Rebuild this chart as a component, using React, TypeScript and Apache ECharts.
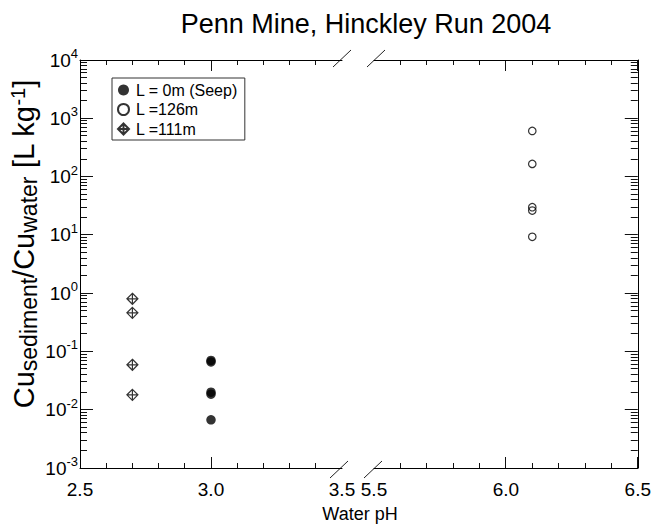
import React, { useEffect, useRef } from 'react';
import * as echarts from 'echarts';

const FONT = '"Liberation Sans", Arial, sans-serif';

const TITLE = 'Penn Mine, Hinckley Run 2004';
const X_NAME = 'Water pH';
const SERIES_NAMES = ['L = 0m (Seep)', 'L =126m', 'L =111m'];

const LEFT_RANGE = [2.5, 3.5];
const RIGHT_RANGE = [5.5, 6.5];
const Y_MIN = 0.001;
const Y_MAX = 10000;

// L = 0m (Seep)
const seepPH = [3.0, 3.0, 3.0, 3.0, 3.0];
const seepKd = [0.066, 0.07, 0.0185, 0.02, 0.0067];
// L = 126m
const l126PH = [6.1, 6.1, 6.1, 6.1, 6.1];
const l126Kd = [607, 165, 29.8, 26.1, 9.25];
// L = 111m
const l111PH = [2.7, 2.7, 2.7, 2.7];
const l111Kd = [0.8, 0.46, 0.059, 0.018];

const DIAMOND = 'path://M5 0L10 5L5 10L0 5ZM5 0L5 10M0 5L10 5';

function xTicks(range: number[], skipStart: boolean, skipEnd: boolean) {
  const out: { v: number; major: boolean }[] = [];
  for (let i = 0; i <= 10; i++) {
    if ((i === 0 && skipStart) || (i === 10 && skipEnd)) continue;
    out.push({ v: +(range[0] + i * 0.1).toFixed(1), major: i % 5 === 0 });
  }
  return out;
}
function yTicks() {
  const out: { v: number; major: boolean }[] = [];
  for (let e = -3; e <= 4; e++) {
    out.push({ v: Math.pow(10, e), major: true });
    if (e < 4) for (let k = 2; k <= 9; k++) out.push({ v: k * Math.pow(10, e), major: false });
  }
  return out;
}

const X_MAJ = 11;
const X_MIN_LEN = 5;
const Y_MAJ = 13;
const Y_MIN_LEN = 7;

export default function App() {
  const ref = useRef<HTMLDivElement>(null);
  useEffect(() => {
    if (!ref.current) return;
    const chart = echarts.init(ref.current, undefined, { renderer: 'svg' });
    const black = '#000';
    const xAxis = (gridIndex: number, range: number[], position: string, showLabel: boolean) => ({
      type: 'value',
      gridIndex,
      position,
      min: range[0],
      max: range[1],
      interval: 0.5,
      axisLine: { show: true, onZero: false, lineStyle: { color: black, width: 1 } },
      axisTick: { show: false },
      minorTick: { show: false },
      splitLine: { show: false },
      axisLabel: {
        show: showLabel,
        fontSize: 19,
        lineHeight: 20,
        color: black,
        fontFamily: FONT,
        margin: 11,
        formatter: (v: number) => v.toFixed(1),
      },
    });
    const yAxis = (gridIndex: number, position: string, showLabel: boolean) => ({
      type: 'log',
      logBase: 10,
      gridIndex,
      position,
      min: Y_MIN,
      max: Y_MAX,
      axisLine: { show: true, onZero: false, lineStyle: { color: black, width: 1 } },
      axisTick: { show: false },
      splitLine: { show: false },
      axisLabel: {
        show: showLabel,
        margin: 2,
        formatter: (v: number) => `{b|10}{s|${Math.round(Math.log10(v))}}`,
        rich: {
          b: { fontSize: 19, lineHeight: 26, fontFamily: FONT, color: black },
          s: { fontSize: 13, lineHeight: 14, verticalAlign: 'top', fontFamily: FONT, color: black },
        },
      },
    });

    const baseGraphic: any[] = [
      {
        type: 'text',
        x: 366,
        y: 24,
        style: { text: TITLE, fontSize: 27, fontFamily: FONT, fill: black, align: 'center', verticalAlign: 'middle' },
      },
      {
        type: 'text',
        x: 360,
        y: 514,
        style: { text: X_NAME, fontSize: 18, lineHeight: 19, fontFamily: FONT, fill: black, align: 'center', verticalAlign: 'middle' },
      },
      {
        type: 'text',
        x: 24,
        y: 244,
        rotation: Math.PI / 2,
        style: {
          text: '{m|Cu}{sb|sediment}{m|/Cu}{sb|water}{m| [L kg}{sp|-1}{m|]}',
          align: 'center',
          verticalAlign: 'middle',
          fill: black,
          rich: {
            m: { fontSize: 29, lineHeight: 32, fontFamily: FONT, fill: black },
            sb: { fontSize: 23, lineHeight: 20, verticalAlign: 'bottom', fontFamily: FONT, fill: black },
            sp: { fontSize: 20, lineHeight: 17, verticalAlign: 'top', fontFamily: FONT, fill: black },
          },
        },
      },
      { type: 'line', shape: { x1: 333, y1: 67, x2: 351, y2: 50 }, style: { stroke: '#222', lineWidth: 1 } },
      { type: 'line', shape: { x1: 367, y1: 67, x2: 385, y2: 50 }, style: { stroke: '#222', lineWidth: 1 } },
      { type: 'line', shape: { x1: 330, y1: 478, x2: 348, y2: 461 }, style: { stroke: '#222', lineWidth: 1 } },
      { type: 'line', shape: { x1: 364, y1: 478, x2: 382, y2: 461 }, style: { stroke: '#222', lineWidth: 1 } },
    ];

    const option: any = {
      animation: false,
      backgroundColor: '#fff',
      textStyle: { fontFamily: FONT },
      grid: [
        { left: 80, top: 60, width: 262, height: 408 },
        { left: 374, top: 60, width: 264, height: 408 },
      ],
      xAxis: [
        xAxis(0, LEFT_RANGE, 'bottom', true),
        xAxis(0, LEFT_RANGE, 'top', false),
        xAxis(1, RIGHT_RANGE, 'bottom', true),
        xAxis(1, RIGHT_RANGE, 'top', false),
      ],
      yAxis: [yAxis(0, 'left', true), yAxis(1, 'right', false)],
      legend: {
        data: SERIES_NAMES,
        orient: 'vertical',
        left: 112,
        top: 78,
        padding: [4, 7, 3, 5],
        itemGap: 3.5,
        itemWidth: 11,
        itemHeight: 11,
        borderColor: '#333',
        borderWidth: 1,
        backgroundColor: '#fff',
        textStyle: { fontSize: 16, lineHeight: 16, color: black, fontFamily: FONT, padding: [0, 0, 0, 2] },
      },
      graphic: baseGraphic,
      series: [
        {
          name: SERIES_NAMES[0],
          type: 'scatter',
          xAxisIndex: 0,
          yAxisIndex: 0,
          symbol: 'circle',
          symbolSize: 9.5,
          z: 3,
          itemStyle: { color: '#000' },
          data: seepPH.map((x, i) => [x, seepKd[i]]),
        },
        {
          name: SERIES_NAMES[1],
          type: 'scatter',
          xAxisIndex: 2,
          yAxisIndex: 1,
          symbol: 'circle',
          symbolSize: 7.5,
          z: 3,
          itemStyle: { color: 'rgba(0,0,0,0)', borderColor: '#000', borderWidth: 1.2 },
          data: l126PH.map((x, i) => [x, l126Kd[i]]),
        },
        {
          name: SERIES_NAMES[2],
          type: 'scatter',
          xAxisIndex: 0,
          yAxisIndex: 0,
          symbol: DIAMOND,
          symbolSize: 11,
          z: 3,
          itemStyle: { color: 'rgba(0,0,0,0)', borderColor: '#000', borderWidth: 1.2 },
          data: l111PH.map((x, i) => [x, l111Kd[i]]),
        },
      ],
    };
    chart.setOption(option);

    // axis ticks: positions come from the chart's own scales (convertToPixel)
    const crisp = (v: number) => Math.round(v - 0.5) + 0.5;
    const tickEls: any[] = [];
    const addLine = (x1: number, y1: number, x2: number, y2: number) =>
      tickEls.push({ type: 'line', silent: true, shape: { x1, y1, x2, y2 }, style: { stroke: '#111', lineWidth: 1 } });
    const gridX = (finder: any, range: number[], skipS: boolean, skipE: boolean) => {
      xTicks(range, skipS, skipE).forEach((k) => {
        const L = k.major ? X_MAJ : X_MIN_LEN;
        const b = chart.convertToPixel(finder, [k.v, Y_MIN]) as number[];
        const t = chart.convertToPixel(finder, [k.v, Y_MAX]) as number[];
        if (!b || !t) return;
        const xb = crisp(b[0]);
        addLine(xb, b[1], xb, b[1] - L);
        addLine(xb, t[1], xb, t[1] + L);
      });
    };
    gridX({ xAxisIndex: 0, yAxisIndex: 0 }, LEFT_RANGE, false, true);
    gridX({ xAxisIndex: 2, yAxisIndex: 1 }, RIGHT_RANGE, true, false);
    yTicks().forEach((k) => {
      const L = k.major ? Y_MAJ : Y_MIN_LEN;
      const l = chart.convertToPixel({ xAxisIndex: 0, yAxisIndex: 0 }, [LEFT_RANGE[0], k.v]) as number[];
      const r = chart.convertToPixel({ xAxisIndex: 2, yAxisIndex: 1 }, [RIGHT_RANGE[1], k.v]) as number[];
      if (l) {
        const y = crisp(l[1]);
        addLine(l[0], y, l[0] + L, y);
      }
      if (r) {
        const y = crisp(r[1]);
        addLine(r[0] - L, y, r[0], y);
      }
    });
    chart.setOption({ graphic: baseGraphic.concat(tickEls) });

    return () => chart.dispose();
  }, []);
  return (
    <div
      ref={ref}
      style={{ position: 'fixed', left: 0, top: 0, width: 654, height: 532, background: '#fff' }}
    />
  );
}
